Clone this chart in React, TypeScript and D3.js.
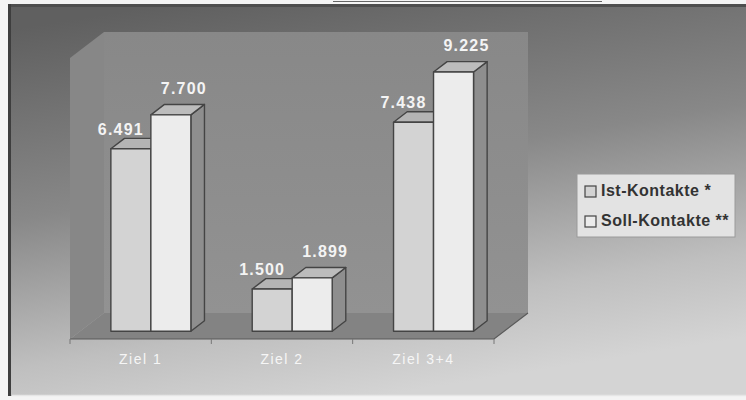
import React from "react";
import * as d3 from "d3";

const categories = ["Ziel 1", "Ziel 2", "Ziel 3+4"];
const seriesNames = ["Ist-Kontakte *", "Soll-Kontakte **"];
const istValues = [6491, 1500, 7438];
const sollValues = [7700, 1899, 9225];
const yMax = 10000;

const W = 746;
const H = 400;
const fmt = (v: number) => d3.format(",")(v).replace(/,/g, ".");

export default function App() {
  const x0 = 70, x1 = 494, yBottom = 339, yTop = 58;
  const D = [34, -26];
  const dFront = 0.3, dBack = 0.7;
  const xScale = d3.scaleBand<string>().domain(categories).range([x0, x1]);
  const yScale = d3.scaleLinear().domain([0, yMax]).range([yBottom, yTop]);
  const groupW = xScale.bandwidth() * 0.566;
  const sub = d3.scaleBand<number>().domain([0, 1]).range([0, groupW]);
  const fx = D[0] * dFront, fy = D[1] * dFront;
  const bdx = D[0] * (dBack - dFront), bdy = D[1] * (dBack - dFront);

  const series = [istValues, sollValues];
  const frontFill = ["#d3d3d3", "#ececec"];
  const topFill = ["#b4b4b4", "#bcbcbc"];
  const sideFill = ["#8a8a8a", "#8e8e8e"];
  const labelDx = [-10, 13];
  const labelDy = [-14, -21];

  const pts = (p: number[][]) => p.map((q) => q.join(",")).join(" ");

  const bars: JSX.Element[] = [];
  const labels: JSX.Element[] = [];
  categories.forEach((c, i) => {
    const gx = (xScale(c) as number) + xScale.bandwidth() / 2 - groupW / 2;
    series.forEach((vals, s) => {
      const v = vals[i];
      const xl = gx + (sub(s) as number) + fx;
      const xr = xl + sub.bandwidth();
      const yt = yScale(v) + fy;
      const yb = yScale(0) + fy;
      bars.push(
        <g key={`b${i}-${s}`} stroke="#444" strokeWidth={1.4} strokeLinejoin="round">
          <polygon points={pts([[xr, yt], [xr + bdx, yt + bdy], [xr + bdx, yb + bdy], [xr, yb]])} fill={sideFill[s]} />
          <polygon points={pts([[xl, yt], [xl + bdx, yt + bdy], [xr + bdx, yt + bdy], [xr, yt]])} fill={topFill[s]} />
          <rect x={xl} y={yt} width={xr - xl} height={yb - yt} fill={frontFill[s]} />
        </g>
      );
      labels.push(
        <text key={`l${i}-${s}`} x={(xl + xr) / 2 + labelDx[s]} y={yt + labelDy[s]} textAnchor="middle"
          fontFamily="Liberation Sans, Arial, sans-serif" fontWeight="bold" fontSize={16} letterSpacing={1.2} fill="#f4f4f4">
          {fmt(v)}
        </text>
      );
    });
  });

  const ticks = [x0, ...categories.map((c) => (xScale(c) as number) + xScale.bandwidth())];

  return (
    <svg width={W} height={H} style={{ position: "absolute", left: 0, top: 0 }}>
      <defs>
        <linearGradient id="bg" x1="0.2" y1="0" x2="0.5" y2="1">
          <stop offset="0" stopColor="#606060" />
          <stop offset="0.45" stopColor="#888888" />
          <stop offset="0.8" stopColor="#bfbfbf" />
          <stop offset="1" stopColor="#d4d4d4" />
        </linearGradient>
        <linearGradient id="wall" x1="0" y1="0" x2="0" y2="1">
          <stop offset="0" stopColor="#888888" />
          <stop offset="1" stopColor="#929292" />
        </linearGradient>
      </defs>
      <rect x={0} y={0} width={W} height={H} fill="#f4f4f4" />
      <rect x={10} y={6} width={736} height={390} fill="url(#bg)" />
      <line x1={10} y1={5.5} x2={746} y2={5.5} stroke="#4e4e4e" strokeWidth={3} />
      <line x1={9.5} y1={4} x2={9.5} y2={396} stroke="#3e3e3e" strokeWidth={3} />
      <line x1={12} y1={395.5} x2={746} y2={395.5} stroke="#e6e6e6" strokeWidth={1.5} />
      <line x1={333} y1={1.5} x2={602} y2={1.5} stroke="#666" strokeWidth={1.2} />

      {/* walls */}
      <polygon points={pts([[x0 + D[0], yTop + D[1]], [x1 + D[0], yTop + D[1]], [x1 + D[0], yBottom + D[1]], [x0 + D[0], yBottom + D[1]]])} fill="url(#wall)" />
      <polygon points={pts([[x0, yTop], [x0 + D[0], yTop + D[1]], [x0 + D[0], yBottom + D[1]], [x0, yBottom]])} fill="#878787" />
      <polygon points={pts([[x0, yBottom], [x1, yBottom], [x1 + D[0], yBottom + D[1]], [x0 + D[0], yBottom + D[1]]])} fill="#838383" />
      <polyline points={pts([[x0, yBottom], [x1, yBottom], [x1 + D[0], yBottom + D[1]]])} fill="none" stroke="#5a5a5a" strokeWidth={1.2} />
      {ticks.map((t, i) => (
        <line key={i} x1={t} y1={yBottom} x2={t} y2={yBottom + 5} stroke="#777" strokeWidth={1} />
      ))}

      {bars}
      {labels}

      {categories.map((c) => (
        <text key={c} x={(xScale(c) as number) + xScale.bandwidth() / 2} y={364} textAnchor="middle"
          fontFamily="Liberation Sans, Arial, sans-serif" fontSize={14} letterSpacing={1.5} fill="#f6f6f6">
          {c}
        </text>
      ))}

      {/* legend */}
      <rect x={577} y={174} width={158} height={63} fill="#e3e3e3" stroke="#9a9a9a" strokeWidth={1} />
      {seriesNames.map((n, s) => (
        <g key={n}>
          <rect x={585} y={186 + s * 30} width={11} height={11} fill={frontFill[s]} stroke="#444" strokeWidth={1.2} />
          <text x={601} y={196 + s * 30} fontFamily="Liberation Sans, Arial, sans-serif" fontWeight="bold"
            fontSize={16} letterSpacing={0.5} fill="#333">
            {n}
          </text>
        </g>
      ))}
    </svg>
  );
}
